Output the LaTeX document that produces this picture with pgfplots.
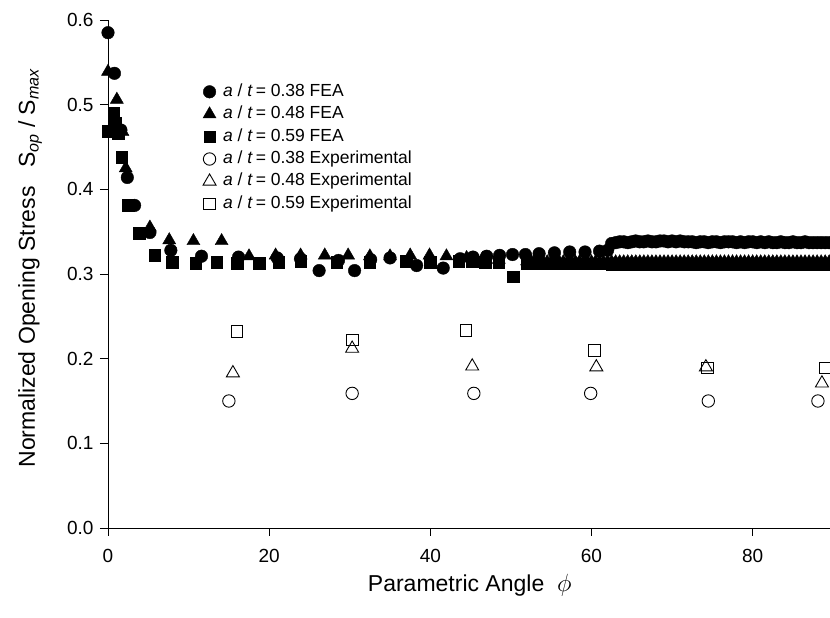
\documentclass[border=0pt]{standalone}
\usepackage{fontspec}
\setmainfont{Liberation Sans}
\usepackage{pgfplots}
\pgfplotsset{compat=1.18}
\pgfplotsset{
  fea/.style={only marks, mark options={draw=black, fill=black}},
  expm/.style={only marks, mark options={draw=black, fill=white, line width=0.9pt}},
}
\begin{document}
\begin{tikzpicture}
\begin{axis}[
  scale only axis, width=722pt, height=508pt,
  xmin=0, xmax=89.6, ymin=0, ymax=0.6,
  axis x line*=bottom, axis y line*=left,
  axis line style={black, line width=0.9pt},
  xtick={0,20,40,60,80}, ytick={0,0.1,0.2,0.3,0.4,0.5,0.6},
  tick align=outside, major tick length=8pt,
  tick style={black, line width=0.9pt},
  yticklabel style={/pgf/number format/fixed, /pgf/number format/fixed zerofill, /pgf/number format/precision=1, xshift=-3pt},
  /pgf/number format/assume math mode=true,
  ticklabel style={font=\fontsize{19}{22}\selectfont},
  xticklabel style={yshift=-10pt},
  clip=false,
  xlabel={Parametric Angle\ \ $\phi$},
  ylabel={Normalized Opening Stress\hspace{0.8em}S\textsubscript{\textit{op}} / S\textsubscript{\textit{max}}},
  label style={font=\fontsize{23}{26}\selectfont},
  xlabel style={at={(axis description cs:0.501,0)}, anchor=center, yshift=-57pt},
  ylabel style={at={(axis description cs:-0.108,0.512)}, anchor=center},
  legend style={at={(axis cs:11.4,0.529)}, anchor=north west, draw=none, fill=none,
    font=\fontsize{17.5}{20}\selectfont, row sep=3.4pt, column sep=6pt,
    nodes={inner sep=1pt, text height=13pt, text depth=4pt}},
  legend cell align=left,
  legend image code/.code={\draw[mark repeat=2,mark phase=2,#1] plot coordinates {(0pt,0pt)(6pt,0pt)(12pt,0pt)};},
]
% a/t = 0.38 FEA
\addplot[fea, mark=*, mark size=6.3pt] table {
x y
0 0.585
0.8 0.537
1.6 0.470
2.4 0.414
3.3 0.381
5.2 0.349
7.8 0.328
11.6 0.321
16.2 0.320
21.0 0.319
23.9 0.318
26.2 0.304
28.6 0.316
30.6 0.304
32.6 0.317
35.0 0.319
38.3 0.310
41.6 0.307
43.7 0.318
45.3 0.320
47.0 0.321
48.6 0.322
50.2 0.323
51.8 0.323
53.5 0.324
55.4 0.325
57.3 0.326
59.2 0.326
61.0 0.327
62.0 0.328
62.5 0.336
63.0 0.337
63.5 0.338
64.0 0.338
64.5 0.337
65.0 0.338
65.5 0.339
66.0 0.338
66.5 0.338
67.0 0.339
67.5 0.338
68.0 0.338
68.5 0.339
69.0 0.339
69.5 0.338
70.0 0.339
70.5 0.338
71.0 0.339
71.5 0.338
72.0 0.338
72.5 0.338
73.0 0.337
73.5 0.338
74.0 0.338
74.5 0.337
75.0 0.338
75.5 0.338
76.0 0.337
76.5 0.338
77.0 0.338
77.5 0.338
78.0 0.337
78.5 0.338
79.0 0.337
79.5 0.338
80.0 0.338
80.5 0.337
81.0 0.338
81.5 0.337
82.0 0.338
82.5 0.337
83.0 0.337
83.5 0.338
84.0 0.337
84.5 0.337
85.0 0.338
85.5 0.337
86.0 0.337
86.5 0.338
87.0 0.337
87.5 0.337
88.0 0.337
88.5 0.337
89.0 0.337
89.5 0.337
};
\addlegendentry{\textit{a} / \textit{t}\,= 0.38 FEA}
% a/t = 0.48 FEA
\addplot[fea, mark=triangle*, mark size=7.5pt] table {
x y
0 0.539
1.1 0.506
1.8 0.468
2.2 0.425
5.2 0.355
7.6 0.340
10.6 0.339
14.1 0.339
17.5 0.321
20.8 0.322
23.9 0.322
26.9 0.322
29.8 0.322
32.5 0.321
35.0 0.321
37.5 0.322
39.9 0.322
42.0 0.321
44.5 0.319
46.5 0.318
48.5 0.317
52.0 0.315
52.5 0.315
53.0 0.315
53.5 0.315
54.0 0.314
54.5 0.314
55.0 0.314
55.5 0.314
56.0 0.314
56.5 0.314
57.0 0.314
57.5 0.314
58.0 0.314
58.5 0.314
59.0 0.314
59.5 0.314
60.0 0.314
60.5 0.314
61.0 0.314
61.5 0.314
62.0 0.314
62.5 0.314
63.0 0.314
63.5 0.314
64.0 0.314
64.5 0.314
65.0 0.314
65.5 0.314
66.0 0.314
66.5 0.314
67.0 0.314
67.5 0.314
68.0 0.314
68.5 0.314
69.0 0.314
69.5 0.314
70.0 0.314
70.5 0.314
71.0 0.314
71.5 0.314
72.0 0.314
72.5 0.314
73.0 0.314
73.5 0.314
74.0 0.314
74.5 0.314
75.0 0.314
75.5 0.314
76.0 0.314
76.5 0.314
77.0 0.314
77.5 0.314
78.0 0.314
78.5 0.314
79.0 0.314
79.5 0.314
80.0 0.314
80.5 0.314
81.0 0.314
81.5 0.314
82.0 0.314
82.5 0.314
83.0 0.314
83.5 0.314
84.0 0.314
84.5 0.314
85.0 0.314
85.5 0.314
86.0 0.314
86.5 0.314
87.0 0.314
87.5 0.314
88.0 0.314
88.5 0.314
89.0 0.314
89.5 0.314
};
\addlegendentry{\textit{a} / \textit{t}\,= 0.48 FEA}
% a/t = 0.59 FEA
\addplot[fea, mark=square*, mark size=5.8pt] table {
x y
0 0.469
0.7 0.490
0.9 0.478
1.3 0.466
1.7 0.438
2.5 0.381
3.9 0.348
5.8 0.322
8.0 0.314
10.9 0.313
13.5 0.314
16.0 0.313
18.8 0.313
21.2 0.314
23.9 0.315
28.4 0.314
32.5 0.314
37.0 0.315
40.0 0.314
43.5 0.315
45.2 0.315
46.8 0.314
48.5 0.314
50.3 0.297
52.0 0.312
52.5 0.312
53.0 0.312
53.5 0.312
54.0 0.312
54.5 0.312
55.0 0.312
55.5 0.312
56.0 0.312
56.5 0.312
57.0 0.312
57.5 0.312
58.0 0.312
58.5 0.312
59.0 0.312
59.5 0.312
60.0 0.312
60.5 0.312
61.0 0.312
61.5 0.312
62.0 0.312
62.5 0.311
63.0 0.311
63.5 0.311
64.0 0.311
64.5 0.311
65.0 0.311
65.5 0.311
66.0 0.311
66.5 0.311
67.0 0.311
67.5 0.311
68.0 0.311
68.5 0.311
69.0 0.311
69.5 0.311
70.0 0.311
70.5 0.311
71.0 0.311
71.5 0.311
72.0 0.311
72.5 0.311
73.0 0.311
73.5 0.311
74.0 0.311
74.5 0.311
75.0 0.311
75.5 0.311
76.0 0.311
76.5 0.311
77.0 0.311
77.5 0.311
78.0 0.311
78.5 0.311
79.0 0.311
79.5 0.311
80.0 0.311
80.5 0.311
81.0 0.311
81.5 0.311
82.0 0.311
82.5 0.311
83.0 0.311
83.5 0.311
84.0 0.311
84.5 0.311
85.0 0.311
85.5 0.311
86.0 0.311
86.5 0.311
87.0 0.311
87.5 0.311
88.0 0.311
88.5 0.311
89.0 0.311
89.5 0.311
};
\addlegendentry{\textit{a} / \textit{t}\,= 0.59 FEA}
% Experimental
\addplot[expm, mark=o, mark size=6.2pt] table {
x y
15.0 0.150
30.3 0.159
45.4 0.159
59.9 0.159
74.5 0.150
88.1 0.150
};
\addlegendentry{\textit{a} / \textit{t}\,= 0.38 Experimental}
\addplot[expm, mark=triangle, mark size=7.5pt] table {
x y
15.5 0.183
30.3 0.212
45.2 0.191
60.6 0.190
74.2 0.190
88.6 0.171
};
\addlegendentry{\textit{a} / \textit{t}\,= 0.48 Experimental}
\addplot[expm, mark=square, mark size=5.8pt] table {
x y
16.0 0.232
30.3 0.222
44.4 0.233
60.4 0.210
74.4 0.189
89.0 0.189
};
\addlegendentry{\textit{a} / \textit{t}\,= 0.59 Experimental}
\end{axis}
\pgfresetboundingbox
\path (current axis.south west) ++(-108pt,-90pt) rectangle ++(830pt,618pt);
\end{tikzpicture}
\end{document}
